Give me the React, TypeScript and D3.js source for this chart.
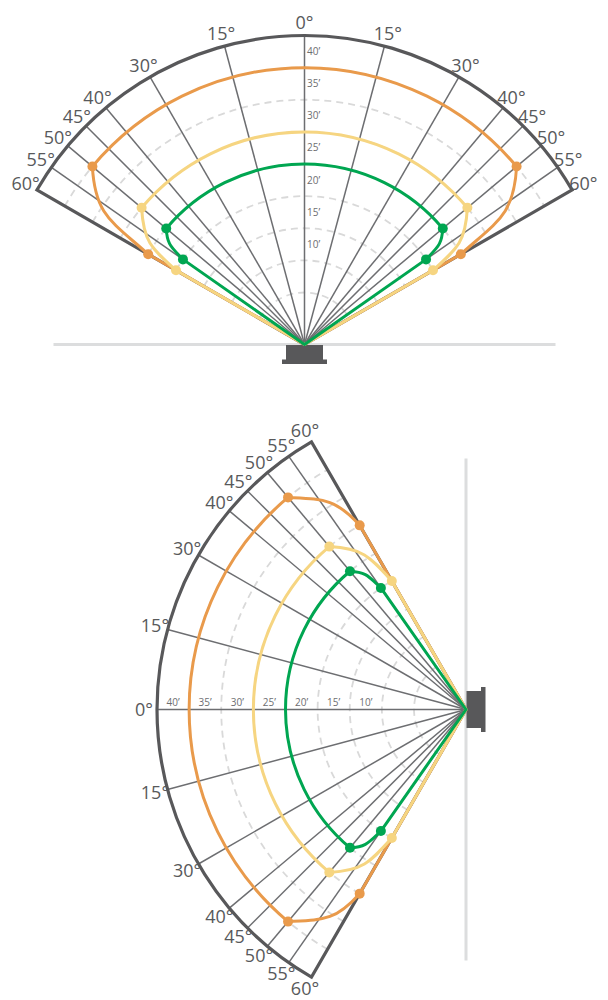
import React from "react";
import * as d3 from "d3";

// ---------- data ----------
const gridAngles = [-55, -50, -45, -40, -30, -15, 0, 15, 30, 40, 45, 50, 55];
const boundaryAngle = 60;
const angleLabels = [-60, -55, -50, -45, -40, -30, -15, 0, 15, 30, 40, 45, 50, 55, 60];
const ringFeet = [0, 5, 10, 15, 20, 25, 30, 35];
const distanceFeet = [10, 15, 20, 25, 30, 35, 40];
const maxFeet = 40;

const seriesColors = ["#E99A4B", "#F6D581", "#00A651"];

// top diagram: dot angles (deg) and distances (ft)
const topOrangeAngles = [-60, -50, 50, 60];
const topOrangeFeet = [20, 35, 35, 20];
const topYellowAngles = [-60, -50, 50, 60];
const topYellowFeet = [15, 25, 25, 15];
const topGreenAngles = [-55, -50, 50, 55];
const topGreenFeet = [15, 20, 20, 15];

// bottom diagram
const bottomOrangeAngles = [-60, -50, 50, 60];
const bottomOrangeFeet = [25, 35, 35, 25];
const bottomYellowAngles = [-60, -50, 50, 60];
const bottomYellowFeet = [15, 25, 25, 15];
const bottomGreenAngles = [-55, -50, 50, 55];
const bottomGreenFeet = [15, 20, 20, 15];

// ---------- layout ----------
const R_IN = 52;
const R_OUT = 309;
const LABEL_R = 322;
const rScale = d3.scaleLinear().domain([0, maxFeet]).range([R_IN, R_OUT]);
const RAD = Math.PI / 180;
const ALPHA = 43 * RAD;
const BETA = 12 * RAD;
const K = 0.47;

const DARK = "#58585A";
const GRID = "#6D6E71";
const FONT = "'Open Sans', 'Noto Sans', sans-serif";

type Pt = [number, number];

function polar(thetaDeg: number, r: number): Pt {
  const t = thetaDeg * RAD;
  return [r * Math.sin(t), -r * Math.cos(t)];
}

// transition curve from arc end (thArc, rArc) to edge point (thEdge, rEdge)
function transition(thArc: number, rArc: number, thEdge: number, rEdge: number): Pt[] {
  const s = Math.sign(thEdge) || 1;
  const a1 = Math.abs(thArc) * RAD;
  const a2 = Math.abs(thEdge) * RAD;
  const P1: Pt = [rArc * Math.sin(a1), -rArc * Math.cos(a1)];
  const P2: Pt = [rEdge * Math.sin(a2), -rEdge * Math.cos(a2)];
  const t1: Pt = [Math.cos(a1), Math.sin(a1)];
  const u1: Pt = [-Math.sin(a1), Math.cos(a1)];
  const d1: Pt = [
    Math.cos(ALPHA) * t1[0] + Math.sin(ALPHA) * u1[0],
    Math.cos(ALPHA) * t1[1] + Math.sin(ALPHA) * u1[1],
  ];
  const t2: Pt = [Math.cos(a2), Math.sin(a2)];
  const u2: Pt = [-Math.sin(a2), Math.cos(a2)];
  const d2: Pt = [
    Math.cos(BETA) * u2[0] + Math.sin(BETA) * t2[0],
    Math.cos(BETA) * u2[1] + Math.sin(BETA) * t2[1],
  ];
  const L = Math.hypot(P2[0] - P1[0], P2[1] - P1[1]) * K;
  const C1: Pt = [P1[0] + L * d1[0], P1[1] + L * d1[1]];
  const C2: Pt = [P2[0] - L * d2[0], P2[1] - L * d2[1]];
  return [P1, C1, C2, P2].map((p) => [p[0] * s, p[1]] as Pt);
}

function seriesPath(angles: number[], feet: number[]): string {
  const p = d3.path();
  p.moveTo(0, 0);
  const P0 = polar(angles[0], rScale(feet[0]));
  p.lineTo(P0[0], P0[1]);
  const T1 = transition(angles[1], rScale(feet[1]), angles[0], rScale(feet[0]));
  p.bezierCurveTo(T1[2][0], T1[2][1], T1[1][0], T1[1][1], T1[0][0], T1[0][1]);
  p.arc(0, 0, rScale(feet[1]), (angles[1] - 90) * RAD, (angles[2] - 90) * RAD, false);
  const T2 = transition(angles[2], rScale(feet[2]), angles[3], rScale(feet[3]));
  p.bezierCurveTo(T2[1][0], T2[1][1], T2[2][0], T2[2][1], T2[3][0], T2[3][1]);
  p.lineTo(0, 0);
  return p.toString();
}

function ringPath(r: number): string {
  const p = d3.path();
  const s = polar(-boundaryAngle, r);
  p.moveTo(s[0], s[1]);
  p.arc(0, 0, r, (-boundaryAngle - 90) * RAD, (boundaryAngle - 90) * RAD, false);
  return p.toString();
}

function boundaryPath(): string {
  const p = d3.path();
  p.moveTo(0, 0);
  const a = polar(-boundaryAngle, R_OUT);
  p.lineTo(a[0], a[1]);
  p.arc(0, 0, R_OUT, (-boundaryAngle - 90) * RAD, (boundaryAngle - 90) * RAD, false);
  p.closePath();
  return p.toString();
}

interface Diagram {
  cx: number;
  cy: number;
  rot: number;
  series: { angles: number[]; feet: number[] }[];
}

const diagrams: Diagram[] = [
  {
    cx: 304.5,
    cy: 344.5,
    rot: 0,
    series: [
      { angles: topOrangeAngles, feet: topOrangeFeet },
      { angles: topYellowAngles, feet: topYellowFeet },
      { angles: topGreenAngles, feet: topGreenFeet },
    ],
  },
  {
    cx: 466,
    cy: 709.5,
    rot: -90,
    series: [
      { angles: bottomOrangeAngles, feet: bottomOrangeFeet },
      { angles: bottomYellowAngles, feet: bottomYellowFeet },
      { angles: bottomGreenAngles, feet: bottomGreenFeet },
    ],
  },
];

function toScreen(d: Diagram, p: Pt): Pt {
  if (d.rot === 0) return [d.cx + p[0], d.cy + p[1]];
  // rotate(-90): (x, y) -> (y, -x)
  return [d.cx + p[1], d.cy - p[0]];
}

function DiagramView({ d }: { d: Diagram }) {
  return (
    <g>
      <g transform={`translate(${d.cx},${d.cy}) rotate(${d.rot})`}>
        {/* ground line */}
        <line x1={-251} y1={0} x2={251} y2={0} stroke="#DCDDDE" strokeWidth={3} />
        {/* sensor */}
        <rect x={-18.5} y={0.5} width={37} height={16} fill={DARK} />
        <rect x={-22.5} y={15} width={45} height={4.5} fill={DARK} />
        {/* dashed rings */}
        {ringFeet.map((f) => (
          <path
            key={"ring" + f}
            d={ringPath(rScale(f))}
            fill="none"
            stroke="#D9D9D9"
            strokeWidth={1.8}
            strokeDasharray="7 5"
          />
        ))}
        {/* radial lines */}
        {gridAngles.map((a) => {
          const e = polar(a, R_OUT);
          return (
            <line key={"rad" + a} x1={0} y1={0} x2={e[0]} y2={e[1]} stroke={GRID} strokeWidth={1.5} />
          );
        })}
        {/* boundary */}
        <path d={boundaryPath()} fill="none" stroke={DARK} strokeWidth={3.2} strokeLinejoin="miter" />
        {/* series */}
        {d.series.map((s, i) => (
          <g key={"s" + i}>
            <path
              d={seriesPath(s.angles, s.feet)}
              fill="none"
              stroke={seriesColors[i]}
              strokeWidth={3}
              strokeLinejoin="round"
              strokeLinecap="round"
            />
            {s.angles.map((a, j) => {
              const p = polar(a, rScale(s.feet[j]));
              return <circle key={j} cx={p[0]} cy={p[1]} r={5} fill={seriesColors[i]} />;
            })}
          </g>
        ))}
      </g>
      {/* angle labels */}
      {angleLabels.map((a) => {
        const p = toScreen(d, polar(a, LABEL_R));
        return (
          <text
            key={"al" + a}
            x={p[0]}
            y={p[1]}
            textAnchor="middle"
            dy="0.35em"
            fontFamily={FONT}
            fontSize={18}
            fill="#58595B"
          >
            {`${Math.abs(a)}°`}
          </text>
        );
      })}
      {/* distance labels */}
      {distanceFeet.map((f) => {
        const r = rScale(f - 2.5);
        if (d.rot === 0) {
          return (
            <text
              key={"dl" + f}
              x={d.cx + 2.5}
              y={d.cy - r}
              dy="0.35em"
              fontFamily={FONT}
              fontSize={10}
              fill="#6D6E71"
            >
              {`${f}’`}
            </text>
          );
        }
        return (
          <text
            key={"dl" + f}
            x={d.cx - r}
            y={d.cy - 4}
            textAnchor="middle"
            fontFamily={FONT}
            fontSize={10}
            fill="#6D6E71"
          >
            {`${f}’`}
          </text>
        );
      })}
    </g>
  );
}

export default function App() {
  return (
    <svg
      width={608}
      height={1000}
      viewBox="0 0 608 1000"
      style={{ position: "absolute", left: 0, top: 0, display: "block", background: "#fff" }}
    >
      {diagrams.map((d, i) => (
        <DiagramView key={i} d={d} />
      ))}
    </svg>
  );
}
